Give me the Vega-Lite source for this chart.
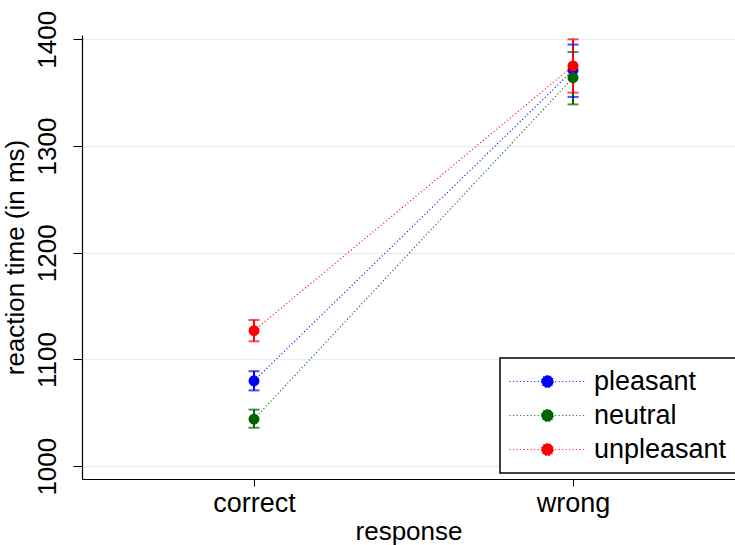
{
  "$schema": "https://vega.github.io/schema/vega-lite/v6.json",
  "autosize": "none",
  "width": 653,
  "height": 444,
  "padding": {"left": 82, "top": 35, "right": 0, "bottom": 66},
  "background": "white",
  "config": {
    "view": {"stroke": null},
    "font": "Liberation Sans",
    "axis": {"labelFont": "Liberation Sans", "titleFont": "Liberation Sans", "labelColor": "black", "titleColor": "black", "titleFontWeight": "normal", "domainColor": "black", "tickColor": "black"}
  },
  "data": {
    "values": [
      {"response": "correct", "valence": "pleasant", "rt": 1080, "lo": 1071, "hi": 1089},
      {"response": "correct", "valence": "neutral", "rt": 1044, "lo": 1036, "hi": 1053},
      {"response": "correct", "valence": "unpleasant", "rt": 1127, "lo": 1117, "hi": 1137},
      {"response": "wrong", "valence": "pleasant", "rt": 1371, "lo": 1346, "hi": 1395},
      {"response": "wrong", "valence": "neutral", "rt": 1364, "lo": 1339, "hi": 1388},
      {"response": "wrong", "valence": "unpleasant", "rt": 1375, "lo": 1350, "hi": 1400}
    ]
  },
  "encoding": {
    "x": {
      "field": "response", "type": "nominal",
      "scale": {"type": "point", "domain": ["correct", "wrong"], "padding": 0.5235, "align": 0.515},
      "axis": {"title": "response", "labelAngle": 0, "labelFontSize": 27, "titleFontSize": 26, "tickSize": 7, "labelPadding": 4, "titlePadding": 2, "domainWidth": 1.2}
    },
    "color": {
      "field": "valence", "type": "nominal",
      "scale": {"domain": ["pleasant", "neutral", "unpleasant"], "range": ["#0000ff", "#006400", "#ff0000"]},
      "legend": {
        "title": null,
        "orient": "none",
        "legendX": 418,
        "legendY": 323,
        "labelFont": "Liberation Sans",
        "labelFontSize": 27,
        "labelColor": "black",
        "symbolType": "M-6.3,0H6.3M-1,0A1,1,0,1,0,1,0A1,1,0,1,0,-1,0Z",
        "symbolSize": 144,
        "symbolStrokeWidth": 1.2,
        "symbolDash": [1, 2.5],
        "symbolOpacity": 1,
        "symbolOffset": 24,
        "labelOffset": 33,
        "padding": 10,
        "rowPadding": 6,
        "strokeColor": "black",
        "fillColor": "white",
        "cornerRadius": 0,
        "encode": {
          "symbols": {"update": {"stroke": {"signal": "scale('color', datum.value)"}, "fill": {"signal": "scale('color', datum.value)"}}},
          "legend": {"update": {"strokeWidth": {"value": 1.5}}}
        }
      }
    }
  },
  "layer": [
    {
      "mark": {"type": "line", "strokeWidth": 1.2, "strokeDash": [1, 2.5]},
      "encoding": {
        "y": {
          "field": "rt", "type": "quantitative",
          "scale": {"domain": [988, 1404], "nice": false, "zero": false},
          "axis": {"title": "reaction time (in ms)", "format": "d", "values": [1000, 1100, 1200, 1300, 1400], "labelAngle": -90, "labelAlign": "center", "labelBaseline": "bottom", "labelFontSize": 26, "titleFontSize": 26, "tickSize": 9, "labelPadding": 13, "titlePadding": 6, "grid": true, "gridColor": "#e8eff1", "gridWidth": 1.5, "domainWidth": 1.2}
        }
      }
    },
    {
      "mark": {"type": "rule", "strokeWidth": 2},
      "encoding": {"y": {"field": "lo", "type": "quantitative"}, "y2": {"field": "hi"}}
    },
    {
      "mark": {"type": "tick", "thickness": 2, "size": 11},
      "encoding": {"y": {"field": "lo", "type": "quantitative"}}
    },
    {
      "mark": {"type": "tick", "thickness": 2, "size": 11},
      "encoding": {"y": {"field": "hi", "type": "quantitative"}}
    },
    {
      "mark": {"type": "point", "filled": true, "size": 120, "opacity": 1},
      "encoding": {
        "y": {"field": "rt", "type": "quantitative"}
      }
    }
  ]
}
